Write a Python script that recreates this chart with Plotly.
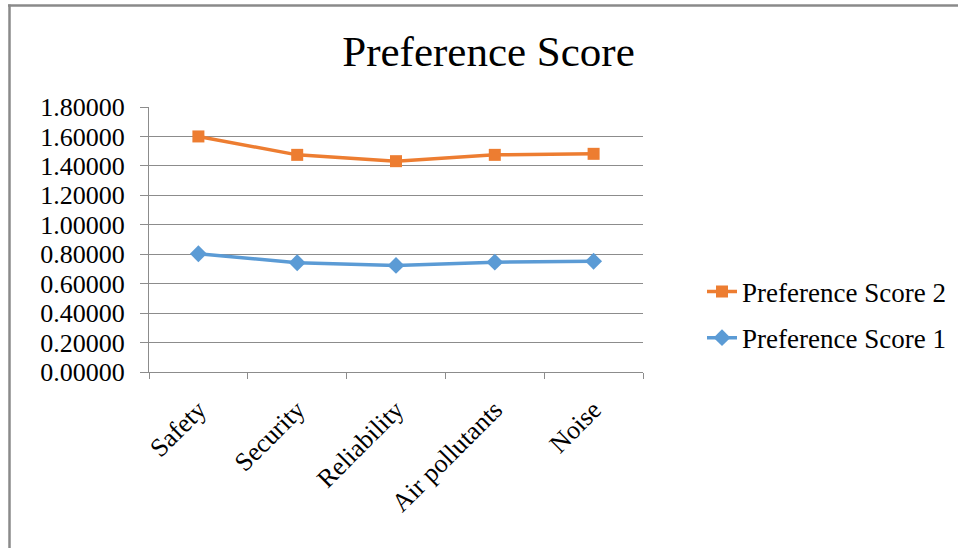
import plotly.graph_objects as go

# Categories and series values
categories = ["Safety", "Security", "Reliability", "Air pollutants", "Noise"]
score_1 = [0.803, 0.742, 0.724, 0.746, 0.752]
score_2 = [1.600, 1.475, 1.432, 1.475, 1.482]
y_ticks = [0.0, 0.2, 0.4, 0.6, 0.8, 1.0, 1.2, 1.4, 1.6, 1.8]

FONT = "Liberation Serif"
BLUE = "#5B9BD5"
ORANGE = "#ED7D31"
GRID = "#8C8C8C"

W, H = 958, 548
L, R, T, B = 149, 315, 107, 176
pw, ph = W - L - R, H - T - B


def px_x(px):
    return (px - L) / pw


def px_y(py):
    return (H - B - py) / ph


fig = go.Figure()
fig.add_trace(go.Scatter(
    x=categories, y=score_1, name="Preference Score 1", mode="lines+markers",
    line=dict(color=BLUE, width=3.5),
    marker=dict(symbol="diamond", size=13, color=BLUE),
    legendgroup="s1", legendrank=2,
))
fig.add_trace(go.Scatter(
    x=categories, y=score_2, name="Preference Score 2", mode="lines+markers",
    line=dict(color=ORANGE, width=3.5),
    marker=dict(symbol="square", size=12, color=ORANGE),
    legendgroup="s2", legendrank=1,
))

# outer chart frame (top and left edges)
fig.add_shape(type="line", xref="paper", yref="paper",
              x0=px_x(8), x1=px_x(962), y0=px_y(5.5), y1=px_y(5.5),
              line=dict(color="#8A8A8A", width=2.5))
fig.add_shape(type="line", xref="paper", yref="paper",
              x0=px_x(9.5), x1=px_x(9.5), y0=px_y(4.5), y1=px_y(552),
              line=dict(color="#8A8A8A", width=2.5))

fig.update_layout(
    width=W, height=H,
    margin=dict(l=L, r=R, t=T, b=B, autoexpand=False),
    paper_bgcolor="white", plot_bgcolor="white",
    font=dict(family=FONT, size=26, color="black"),
    title=dict(text="Preference Score", x=488.5 / W, xref="container",
               xanchor="center", y=1 - 51 / H, yref="container", yanchor="middle",
               font=dict(family=FONT, size=43, color="black")),
    legend=dict(x=px_x(702), xanchor="left", y=px_y(315), yanchor="middle",
                traceorder="grouped", tracegroupgap=8,
                font=dict(family=FONT, size=27, color="black"),
                bgcolor="rgba(0,0,0,0)"),
    xaxis=dict(
        type="category", range=[-0.5, len(categories) - 0.5],
        showgrid=False, showline=True, linecolor=GRID, linewidth=1.3,
        ticks="outside", ticklen=6, tickcolor=GRID, tickwidth=1.3,
        tickson="boundaries", tickangle=-45, ticklabelstandoff=11,
        tickfont=dict(family=FONT, size=26, color="black"),
    ),
    yaxis=dict(
        range=[0, 1.8], tickvals=y_ticks, tickformat=".5f",
        showgrid=True, gridcolor=GRID, gridwidth=1.3,
        showline=True, linecolor=GRID, linewidth=1.3,
        ticks="outside", ticklen=8, tickcolor=GRID, tickwidth=1.3,
        ticklabelstandoff=10, zeroline=False,
        tickfont=dict(family=FONT, size=26, color="black"),
    ),
)

fig.write_html("out.html")
